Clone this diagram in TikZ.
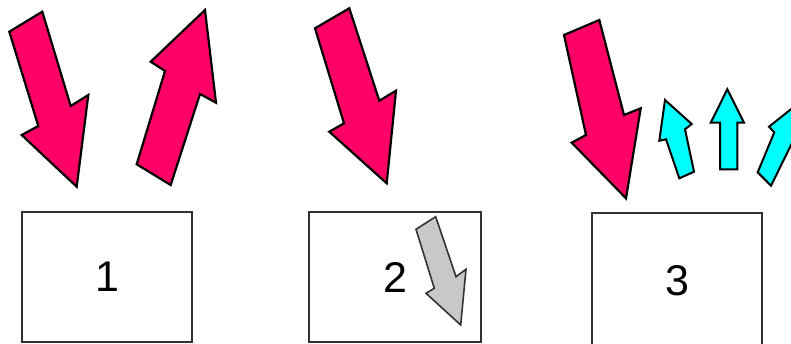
\documentclass[tikz,border=0pt]{standalone}
\usepackage{fontspec}
\setmainfont{Liberation Sans}
\usepackage{tikz}
\usetikzlibrary{positioning}
\usepackage{xcolor}
\definecolor{HotPink}{RGB}{255,0,102}
\definecolor{IceCyan}{RGB}{0,255,255}
\definecolor{ShadeGray}{RGB}{200,200,200}
\definecolor{EdgeGray}{RGB}{50,50,50}
\tikzset{
  panel/.style={rectangle,draw=EdgeGray,line width=2pt,fill=white,
    inner sep=0pt,minimum width=170pt,minimum height=130pt,
    font=\fontsize{43}{50}\selectfont},
  pinkarrow/.style={fill=HotPink,draw=black,line width=2.2pt},
  cyanarrow/.style={fill=IceCyan,draw=black,line width=2pt},
  grayarrow/.style={fill=ShadeGray,draw=black!80,line width=1.6pt}
}
\begin{document}
\begin{tikzpicture}[x=1pt,y=-1pt]
  \useasboundingbox (0,0) rectangle (791,343);
  \clip (0,0) rectangle (791,343);
  % boxes
  \node[panel,minimum height=129.7pt] (box1) at (107,276.85) {1};
  \node[panel,minimum width=172pt] (box2) at (395,277) {2};
  \node[panel,minimum height=136pt] (box3) at (677,281) {3};
  % incoming and outgoing arrows, case 1
  \draw[pinkarrow] (9.3,31.7) -- (42.3,11.7) -- (70.7,106) -- (88.3,95)
    -- (76.7,186.7) -- (21.7,135) -- (38.3,126) -- cycle;
  \draw[pinkarrow] (136.7,164.3) -- (165,71) -- (150.7,61.7) -- (205,10)
    -- (216,102.7) -- (200,94) -- (170.7,185) -- cycle;
  % case 2
  \draw[pinkarrow] (315,28.3) -- (349.3,8.3) -- (379.3,100.7) -- (396,90.7)
    -- (386.7,183.3) -- (329.3,131.7) -- (344,123.3) -- cycle;
  \draw[grayarrow] (416,229.3) -- (435.7,216.7) -- (456,276.7) -- (466,269.3)
    -- (460.7,325) -- (426,293.3) -- (434.3,288.3) -- cycle;
  % case 3
  \draw[pinkarrow] (564,35) -- (599.3,20) -- (624,115) -- (640.7,108.3)
    -- (626,198.3) -- (571.7,142.7) -- (586,135) -- cycle;
  \draw[cyanarrow] (679.3,178.3) -- (666,139.3) -- (659.3,140.7) -- (665,100)
    -- (691.7,124) -- (685,129.3) -- (694,171.7) -- cycle;
  \draw[cyanarrow] (720,169.3) -- (720,122.7) -- (710.7,122.7) -- (727.3,89.3)
    -- (744,122.7) -- (737.3,122.7) -- (737.3,169.3) -- cycle;
  \draw[cyanarrow] (757.7,172.3) -- (774.3,132.3) -- (769,126.7) -- (805,98)
    -- (800,140) -- (795,137) -- (771,185.7) -- cycle;
\end{tikzpicture}
\end{document}
